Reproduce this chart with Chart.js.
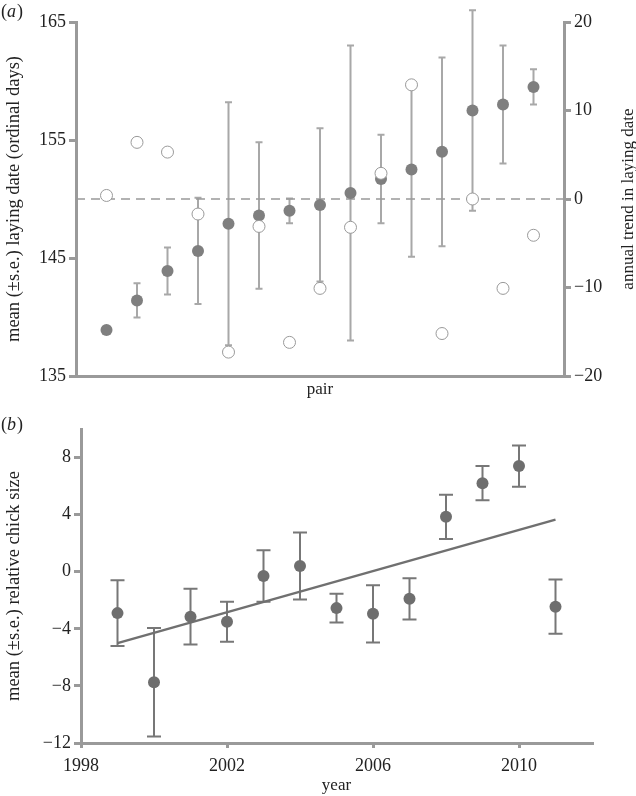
<!DOCTYPE html>
<html>
<head>
<meta charset="utf-8">
<script src="https://cdn.jsdelivr.net/npm/chart.js@4.4.1/dist/chart.umd.min.js"></script>
<style>
  html, body { margin:0; padding:0; background:#fff; }
  #wrap { position:relative; width:636px; height:796px; }
  #wrap canvas { position:absolute; left:0; }
  #chartA { top:0; }
  #chartB { top:400px; }
</style>
</head>
<body>
<div id="wrap">
  <canvas id="chartA" width="636" height="400"></canvas>
  <canvas id="chartB" width="636" height="396"></canvas>
</div>
<script>
// (a) laying date per pair
const pairs = [1,2,3,4,5,6,7,8,9,10,11,12,13,14,15];
const layMean = [138.9,141.4,143.9,145.6,147.9,148.6,149.0,149.5,150.5,151.7,152.5,154.0,157.5,158.0,159.5];
const laySE = [0,1.45,2.0,4.5,10.3,6.2,1.05,6.5,12.5,3.75,7.4,8.0,8.5,5.0,1.5];
const trend = [0.4,6.4,5.3,-1.7,-17.3,-3.1,-16.2,-10.1,-3.2,2.9,12.9,-15.2,0,-10.1,-4.1];
const layTicks = [135,145,155,165];
const trendTicks = [-20,-10,0,10,20];
const pairMin = 0, pairMax = 16;

// (b) relative chick size per year
const years = [1999,2000,2001,2002,2003,2004,2005,2006,2007,2008,2009,2010,2011];
const chickMean = [-2.9,-7.75,-3.15,-3.5,-0.3,0.4,-2.55,-2.95,-1.9,3.85,6.2,7.4,-2.45];
const chickSE = [2.3,3.8,1.95,1.4,1.8,2.35,1.0,2.0,1.45,1.55,1.2,1.45,1.9];
const fitYears = [1999,2011];
const fitValues = [-5.0,3.65];
const yearTicks = [1998,2002,2006,2010];
const chickTicks = [-12,-8,-4,0,4,8];

const axisColor = '#9a9a9a';
const textColor = '#222';
const serif = '"Liberation Serif", "DejaVu Serif", serif';
const tickFont = { family: serif, size: 18 };
const titleFont = { family: serif, size: 17 };
const leftTitleFont = { family: serif, size: 18.5 };
const minus = v => v < 0 ? '\u2212' + Math.abs(v) : String(v);

function errorBars(xs, means, errs, color, width, cap, axisId) {
  return {
    id: 'errorBars',
    beforeDatasetsDraw(chart) {
      const ctx = chart.ctx;
      const sx = chart.scales.x, sy = chart.scales[axisId];
      ctx.save();
      ctx.strokeStyle = color;
      ctx.lineWidth = width;
      xs.forEach((xv, i) => {
        if (!errs[i]) return;
        const px = sx.getPixelForValue(xv);
        const top = sy.getPixelForValue(means[i] + errs[i]);
        const bot = sy.getPixelForValue(means[i] - errs[i]);
        ctx.beginPath();
        ctx.moveTo(px, top); ctx.lineTo(px, bot);
        ctx.moveTo(px - cap, top); ctx.lineTo(px + cap, top);
        ctx.moveTo(px - cap, bot); ctx.lineTo(px + cap, bot);
        ctx.stroke();
      });
      ctx.restore();
    }
  };
}

function panelLetter(letter, y) {
  return {
    id: 'panelLetter',
    afterDraw(chart) {
      const ctx = chart.ctx;
      ctx.save();
      ctx.fillStyle = textColor;
      ctx.textBaseline = 'middle';
      let x = 1;
      ctx.font = '18px ' + serif;
      ctx.fillText('(', x, y); x += ctx.measureText('(').width;
      ctx.font = 'italic 18px ' + serif;
      ctx.fillText(letter, x, y); x += ctx.measureText(letter).width + 1;
      ctx.font = '18px ' + serif;
      ctx.fillText(')', x, y);
      ctx.restore();
    }
  };
}

const rightTitle = {
  id: 'rightTitle',
  afterDraw(chart) {
    const ctx = chart.ctx, a = chart.chartArea;
    ctx.save();
    ctx.translate(chart.scales.y2.right - 7, (a.top + a.bottom) / 2);
    ctx.rotate(-Math.PI / 2);
    ctx.fillStyle = textColor;
    ctx.font = '17px ' + serif;
    ctx.textAlign = 'center';
    ctx.textBaseline = 'middle';
    ctx.fillText('annual trend in laying date', 0, 0);
    ctx.restore();
  }
};

function yAxis(extra) {
  return Object.assign({
    grid: { drawOnChartArea: false, drawTicks: true, tickLength: 7, color: axisColor, lineWidth: 3 },
    border: { display: true, color: axisColor, width: 3 },
    ticks: { font: tickFont, color: textColor, padding: 3, callback: minus }
  }, extra);
}

new Chart(document.getElementById('chartA'), {
  type: 'scatter',
  data: {
    datasets: [
      {
        data: pairs.map((p, i) => ({ x: p, y: trend[i] })),
        yAxisID: 'y2',
        pointRadius: 6,
        backgroundColor: '#fff',
        borderColor: '#999',
        borderWidth: 1
      },
      {
        data: pairs.map((p, i) => ({ x: p, y: layMean[i] })),
        yAxisID: 'y',
        pointRadius: 6,
        backgroundColor: '#7f7f7f',
        borderColor: '#7f7f7f',
        borderWidth: 0
      },
      {
        data: [{ x: pairMin, y: 0 }, { x: pairMax, y: 0 }],
        yAxisID: 'y2',
        showLine: true,
        pointRadius: 0,
        borderColor: '#999',
        borderWidth: 1.5,
        borderDash: [9, 6]
      }
    ]
  },
  options: {
    responsive: false,
    animation: false,
    devicePixelRatio: 1,
    layout: { padding: { top: 22, left: 0, right: 0, bottom: 0 } },
    plugins: { legend: { display: false }, tooltip: { enabled: false } },
    scales: {
      x: {
        type: 'linear', min: pairMin, max: pairMax,
        grid: { display: false },
        border: { display: true, color: axisColor, width: 3 },
        ticks: { display: false },
        title: { display: true, text: 'pair', font: titleFont, color: textColor, padding: 0 },
        afterFit: s => { s.height = 24; }
      },
      y: yAxis({
        position: 'left', min: 135, max: 165,
        afterBuildTicks: s => { s.ticks = layTicks.map(v => ({ value: v })); },
        title: { display: true, text: 'mean (\u00b1s.e.) laying date (ordinal days)', font: leftTitleFont, color: textColor, padding: { top: 3 } },
        afterFit: s => { s.width = 76; }
      }),
      y2: yAxis({
        position: 'right', min: -20, max: 20,
        afterBuildTicks: s => { s.ticks = trendTicks.map(v => ({ value: v })); },
        afterFit: s => { s.width = 72; }
      })
    }
  },
  plugins: [errorBars(pairs, layMean, laySE, '#a8a8a8', 2, 3.5, 'y'), panelLetter('a', 12), rightTitle]
});

new Chart(document.getElementById('chartB'), {
  type: 'scatter',
  data: {
    datasets: [
      {
        data: years.map((yr, i) => ({ x: yr, y: chickMean[i] })),
        pointRadius: 6,
        backgroundColor: '#6e6e6e',
        borderColor: '#6e6e6e',
        borderWidth: 0
      },
      {
        data: fitYears.map((yr, i) => ({ x: yr, y: fitValues[i] })),
        showLine: true,
        pointRadius: 0,
        borderColor: '#707070',
        borderWidth: 2.5
      }
    ]
  },
  options: {
    responsive: false,
    animation: false,
    devicePixelRatio: 1,
    layout: { padding: { top: 29, left: 0, right: 44, bottom: 0 } },
    plugins: { legend: { display: false }, tooltip: { enabled: false } },
    scales: {
      x: {
        type: 'linear', min: 1998, max: 2012,
        afterBuildTicks: s => { s.ticks = yearTicks.map(v => ({ value: v })); },
        grid: { drawOnChartArea: false, drawTicks: true, tickLength: 5, color: axisColor, lineWidth: 3 },
        border: { display: true, color: axisColor, width: 3 },
        ticks: { font: tickFont, color: textColor, padding: 7, maxRotation: 0, callback: v => String(v) },
        title: { display: true, text: 'year', font: titleFont, color: textColor, padding: 0 },
        afterFit: s => { s.height = 53; }
      },
      y: yAxis({
        position: 'left', min: -12, max: 10,
        afterBuildTicks: s => { s.ticks = chickTicks.map(v => ({ value: v })); },
        title: { display: true, text: 'mean (\u00b1s.e.) relative chick size', font: leftTitleFont, color: textColor, padding: { top: 3 } },
        afterFit: s => { s.width = 81; }
      })
    }
  },
  plugins: [errorBars(years, chickMean, chickSE, '#777', 2, 7, 'y'), panelLetter('b', 25)]
});
</script>
</body>
</html>
